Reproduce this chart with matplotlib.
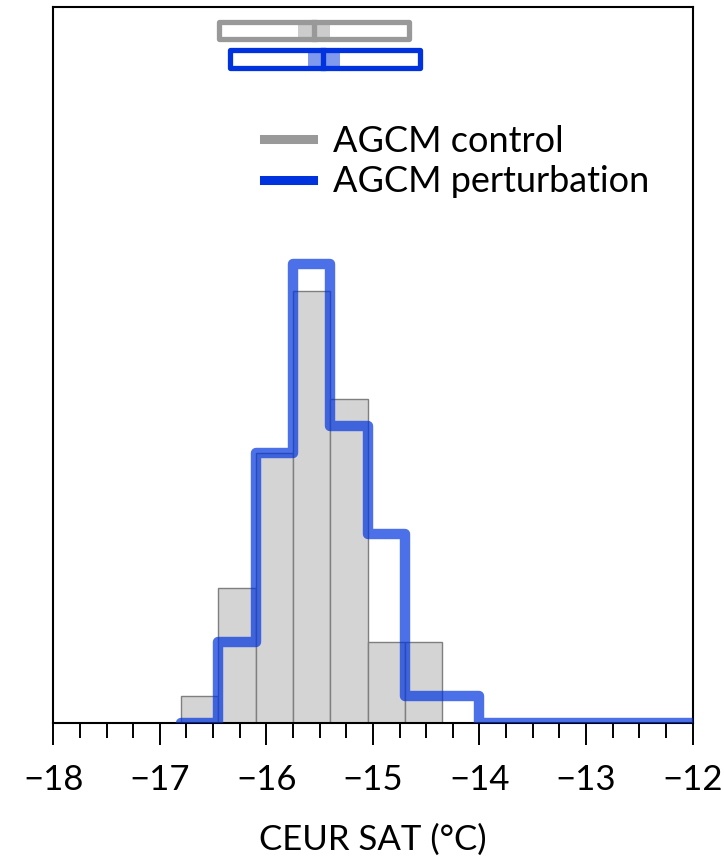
import matplotlib
matplotlib.use("Agg")
import matplotlib.pyplot as plt
import matplotlib.transforms as mtransforms
from matplotlib.lines import Line2D
from matplotlib.patches import Rectangle
from matplotlib.ticker import MultipleLocator

plt.rcParams["font.family"] = ["Lato", "DejaVu Sans"]

# control histogram (counts per bin)
control_edges = [-16.8, -16.45, -16.1, -15.75, -15.4, -15.05, -14.7, -14.35]
control_counts = [1, 5, 10, 16, 12, 3, 3]

# perturbation histogram (step outline)
pert_edges = [-16.8, -16.45, -16.1, -15.75, -15.4, -15.05, -14.7, -14.35, -14.0, -12.0]
pert_counts = [0, 3, 10, 17, 11, 7, 1, 1, 0]

# summary boxes: range, median, shaded interval
control_range = (-16.44, -14.66)
control_median = -15.556
control_ci = (-15.70, -15.40)
pert_range = (-16.34, -14.56)
pert_median = -15.465
pert_ci = (-15.61, -15.31)

GRAY = "#999999"
BLUE = "#0033dd"

fig = plt.figure(figsize=(7.24, 8.59), dpi=100)
ax = fig.add_axes([0.0736, 0.158, 0.8829, 0.8342])

widths = [b - a for a, b in zip(control_edges[:-1], control_edges[1:])]
ax.bar(control_edges[:-1], control_counts, width=widths, align="edge",
       color="#d4d4d4", edgecolor="#7f7f7f", linewidth=1.0, zorder=1)

ax.stairs(pert_counts, pert_edges, color=BLUE, alpha=0.7, linewidth=7.5,
          joinstyle="round", capstyle="round", zorder=3)


def draw_box(rng, med, ci, y0, y1, color, shade):
    trans = mtransforms.blended_transform_factory(ax.transData, ax.transAxes)
    ax.add_patch(Rectangle((ci[0], y0), ci[1] - ci[0], y1 - y0, transform=trans,
                           facecolor=shade, edgecolor="none", zorder=4, clip_on=False))
    ax.add_patch(Rectangle((rng[0], y0), rng[1] - rng[0], y1 - y0, transform=trans,
                           facecolor="none", edgecolor=color, linewidth=3.8,
                           joinstyle="round", zorder=5, clip_on=False))
    ax.plot([med, med], [y0, y1], transform=trans, color=color, linewidth=3.8,
            zorder=5, clip_on=False)


draw_box(control_range, control_median, control_ci, 0.9546, 0.9793, GRAY, "#cccccc")
draw_box(pert_range, pert_median, pert_ci, 0.9145, 0.9396, BLUE, "#7f99ee")

ax.set_xlim(-18, -12)
ax.set_ylim(0, 26.5)
ax.xaxis.set_major_locator(MultipleLocator(1))
ax.xaxis.set_minor_locator(MultipleLocator(0.25))
ax.set_yticks([])
ax.tick_params(axis="x", which="major", length=16, width=1.4, direction="out",
               labelsize=25, pad=13)
ax.tick_params(axis="x", which="minor", length=11, width=1.4, direction="out")
for s in ax.spines.values():
    s.set_linewidth(1.5)
ax.set_xlabel("CEUR SAT (°C)", fontsize=25, labelpad=20)

handles = [Line2D([], [], color=GRAY, linewidth=6.5),
           Line2D([], [], color=BLUE, linewidth=6.5)]
ax.legend(handles, ["AGCM control", "AGCM perturbation"], loc="upper left",
          bbox_to_anchor=(0.33, 0.835), frameon=False, fontsize=26,
          handlelength=1.35, handletextpad=0.55, borderaxespad=0, borderpad=0,
          labelspacing=0.2)

fig.savefig("out.png", dpi=100)
